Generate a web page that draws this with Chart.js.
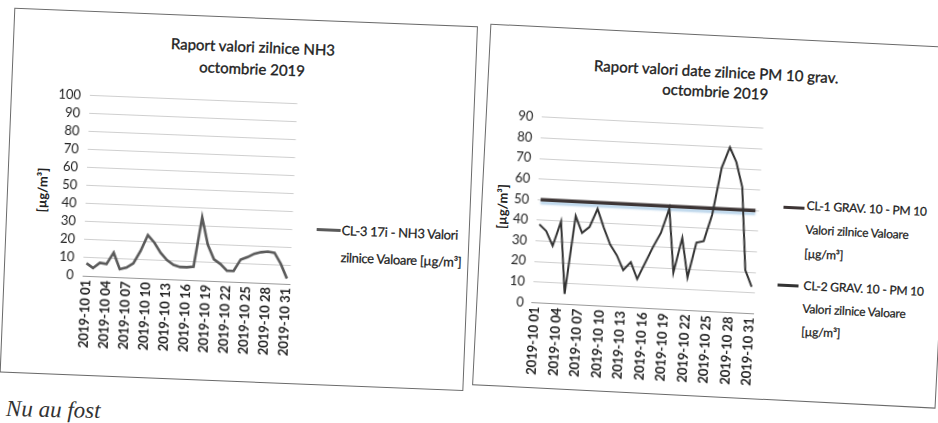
<!DOCTYPE html>
<html>
<head>
<meta charset="utf-8">
<script src="https://cdn.jsdelivr.net/npm/chart.js@4.4.1/dist/chart.umd.min.js"></script>
<style>
  body { margin: 0; width: 938px; height: 423px; background: #fff; overflow: hidden; position: relative;
         font-family: Lato, "Open Sans", sans-serif; color: #222; }
  .panel { position: absolute; }
  .frame { position: absolute; inset: 0; border: 1px solid #6a6a6a; }
  .title { position: absolute; text-align: center; font-size: 15px; line-height: 22px; white-space: nowrap;
           transform: translateX(-50%); -webkit-text-stroke: 0.35px #222; }
  .ytitle { position: absolute; font-size: 13px; font-weight: bold; white-space: nowrap; transform: translate(-50%, -50%) rotate(-90deg); }
  .leg-line { position: absolute; height: 0; border-top: 3px solid #555; }
  .leg-text { position: absolute; font-size: 12px; letter-spacing: -0.2px; white-space: nowrap; -webkit-text-stroke: 0.25px #222; }
  canvas { position: absolute; }
  .note { position: absolute; left: 6px; top: 397px; font-family: "Liberation Serif", serif; font-style: italic; font-size: 23px; color: #333; transform: rotate(1.2deg); }
</style>
</head>
<body>

<div class="panel" id="leftPanel" style="left:7px; top:17px; width:464px; height:365px; transform-origin:234px 178px; transform:rotate(2.3deg);">
  <div class="frame"></div>
  <div class="title" style="left:240px; top:18px;">Raport valori zilnice NH3<br>octombrie 2019</div>
  <div class="ytitle" style="left:35px; top:181px;">[µg/m³]</div>
  <canvas id="nh3Chart" style="left:13px; top:68px;" width="290" height="293"></canvas>
  <div class="leg-line" style="left:311px; top:208px; width:24px; border-top-color:#5a5a5a;"></div>
  <div class="leg-text" style="left:336px; top:196px; line-height:27px; font-size:13px; letter-spacing:-0.3px;">CL-3 17i - NH3 Valori<br>zilnice Valoare [µg/m³]</div>
</div>

<div class="panel" id="rightPanel" style="left:481px; top:35px; width:464px; height:362px; transform-origin:229px 180px; transform:rotate(2.9deg);">
  <div class="frame"></div>
  <div class="title" style="left:228px; top:26px; line-height:20px;">Raport valori date zilnice PM 10 grav.<br>octombrie 2019</div>
  <div class="ytitle" style="left:21px; top:182px;">[µg/m³]</div>
  <canvas id="pm10Chart" style="left:9px; top:75px;" width="285" height="290"></canvas>
  <div class="leg-line" style="left:302px; top:167px; width:21px; border-top-color:#3d3535;"></div>
  <div class="leg-text" style="left:325px; top:154px; line-height:24px;">CL-1 GRAV. 10 - PM 10<br>Valori zilnice Valoare<br>[µg/m³]</div>
  <div class="leg-line" style="left:300px; top:245px; width:21px; border-top-color:#333;"></div>
  <div class="leg-text" style="left:326px; top:234px; line-height:23px;">CL-2 GRAV. 10 - PM 10<br>Valori zilnice Valoare<br>[µg/m³]</div>
</div>

<div class="note">Nu au fost</div>

<script>
// zilele lunii (categorii)
const days = [
  "2019-10 01", "2019-10 02", "2019-10 03", "2019-10 04", "2019-10 05", "2019-10 06", "2019-10 07",
  "2019-10 08", "2019-10 09", "2019-10 10", "2019-10 11", "2019-10 12", "2019-10 13", "2019-10 14",
  "2019-10 15", "2019-10 16", "2019-10 17", "2019-10 18", "2019-10 19", "2019-10 20", "2019-10 21",
  "2019-10 22", "2019-10 23", "2019-10 24", "2019-10 25", "2019-10 26", "2019-10 27", "2019-10 28",
  "2019-10 29", "2019-10 30", "2019-10 31"
];

// NH3 - CL-3 17i
const nh3Values = [7, 4.5, 7.5, 7, 13.5, 4.5, 5.5, 8, 15, 24, 20, 14.5, 10.5, 8, 7, 7, 7.5, 35, 20, 12,
  9.5, 6, 6, 12.5, 14, 16, 17, 17.5, 17, 11, 3];

// PM10 grav. - CL-1 si CL-2
const pm10Cl1 = [50, 50, 50, 50, 50, 50, 50, 50, 50, 50, 50, 50, 50, 50, 50, 50, 50, 50, 50, 50,
  50, 50, 50, 50, 50, 50, 50, 50, 50, 50, 50];
const pm10Cl2 = [38, 35, 28, 40, 5, 43, 35, 38, 47, 38, 30, 25, 18, 22, 14, 22, 30, 37, 49, 18,
  35, 16, 33, 34, 47, 70, 80, 73, 61, 21, 13];

const nh3Ticks = { min: 0, max: 100, step: 10 };
const pm10Ticks = { min: 0, max: 90, step: 10 };

const FONT = "Lato, 'Open Sans', sans-serif";

function axisOptions(range, yWidth, xHeight, tickPad) {
  return {
    x: {
      offset: true,
      grid: { display: false, drawTicks: false },
      border: { display: true, color: "#9a9a9a", width: 1 },
      afterFit: (s) => { s.height = xHeight; },
      ticks: {
        autoSkip: false,
        minRotation: 90,
        maxRotation: 90,
        padding: 4,
        color: "#222",
        font: { family: FONT, size: 13, weight: "bold" },
        callback: (v, i) => (i % 3 === 0 ? days[i] : "")
      }
    },
    y: {
      min: range.min,
      max: range.max,
      grid: { color: "#cfcfcf", lineWidth: 1, drawTicks: false },
      border: { display: false },
      afterFit: (s) => { s.width = yWidth; },
      ticks: {
        stepSize: range.step,
        autoSkip: false,
        padding: tickPad,
        color: "#222",
        font: { family: FONT, size: 13 }
      }
    }
  };
}

// umbra albastruie sub linia CL-1 (ca in original)
const bandShadow = {
  id: "bandShadow",
  beforeDatasetDraw(chart, args) {
    if (args.index === 0) {
      const c = chart.ctx;
      c.save();
      c.shadowColor = "rgba(140,185,220,0.6)";
      c.shadowOffsetY = 3;
      c.shadowBlur = 2;
    }
  },
  afterDatasetDraw(chart, args) {
    if (args.index === 0) chart.ctx.restore();
  }
};

new Chart(document.getElementById("nh3Chart"), {
  type: "line",
  data: {
    labels: days,
    datasets: [{
      label: "CL-3 17i - NH3 Valori zilnice Valoare [µg/m³]",
      data: nh3Values,
      borderColor: "#5a5a5a",
      borderWidth: 2.6,
      pointRadius: 0,
      tension: 0
    }]
  },
  options: {
    responsive: false,
    animation: false,
    layout: { padding: { top: 15, right: 13, left: 0, bottom: 0 } },
    plugins: { legend: { display: false }, title: { display: false }, tooltip: { enabled: false } },
    scales: axisOptions(nh3Ticks, 66, 96, 9)
  }
});

new Chart(document.getElementById("pm10Chart"), {
  type: "line",
  data: {
    labels: days,
    datasets: [
      {
        label: "CL-1 GRAV. 10 - PM 10 Valori zilnice Valoare [µg/m³]",
        data: pm10Cl1,
        borderColor: "#3d3535",
        borderWidth: 3.5,
        pointRadius: 0,
        tension: 0,
        order: 1
      },
      {
        label: "CL-2 GRAV. 10 - PM 10 Valori zilnice Valoare [µg/m³]",
        data: pm10Cl2,
        borderColor: "#333333",
        borderWidth: 2,
        pointRadius: 0,
        tension: 0,
        order: 0
      }
    ]
  },
  options: {
    responsive: false,
    animation: false,
    layout: { padding: { top: 14.6, right: 12.5, left: 0, bottom: 0 } },
    plugins: { legend: { display: false }, title: { display: false }, tooltip: { enabled: false } },
    scales: axisOptions(pm10Ticks, 46.5, 88.5, 8)
  },
  plugins: [bandShadow]
});
</script>
</body>
</html>
